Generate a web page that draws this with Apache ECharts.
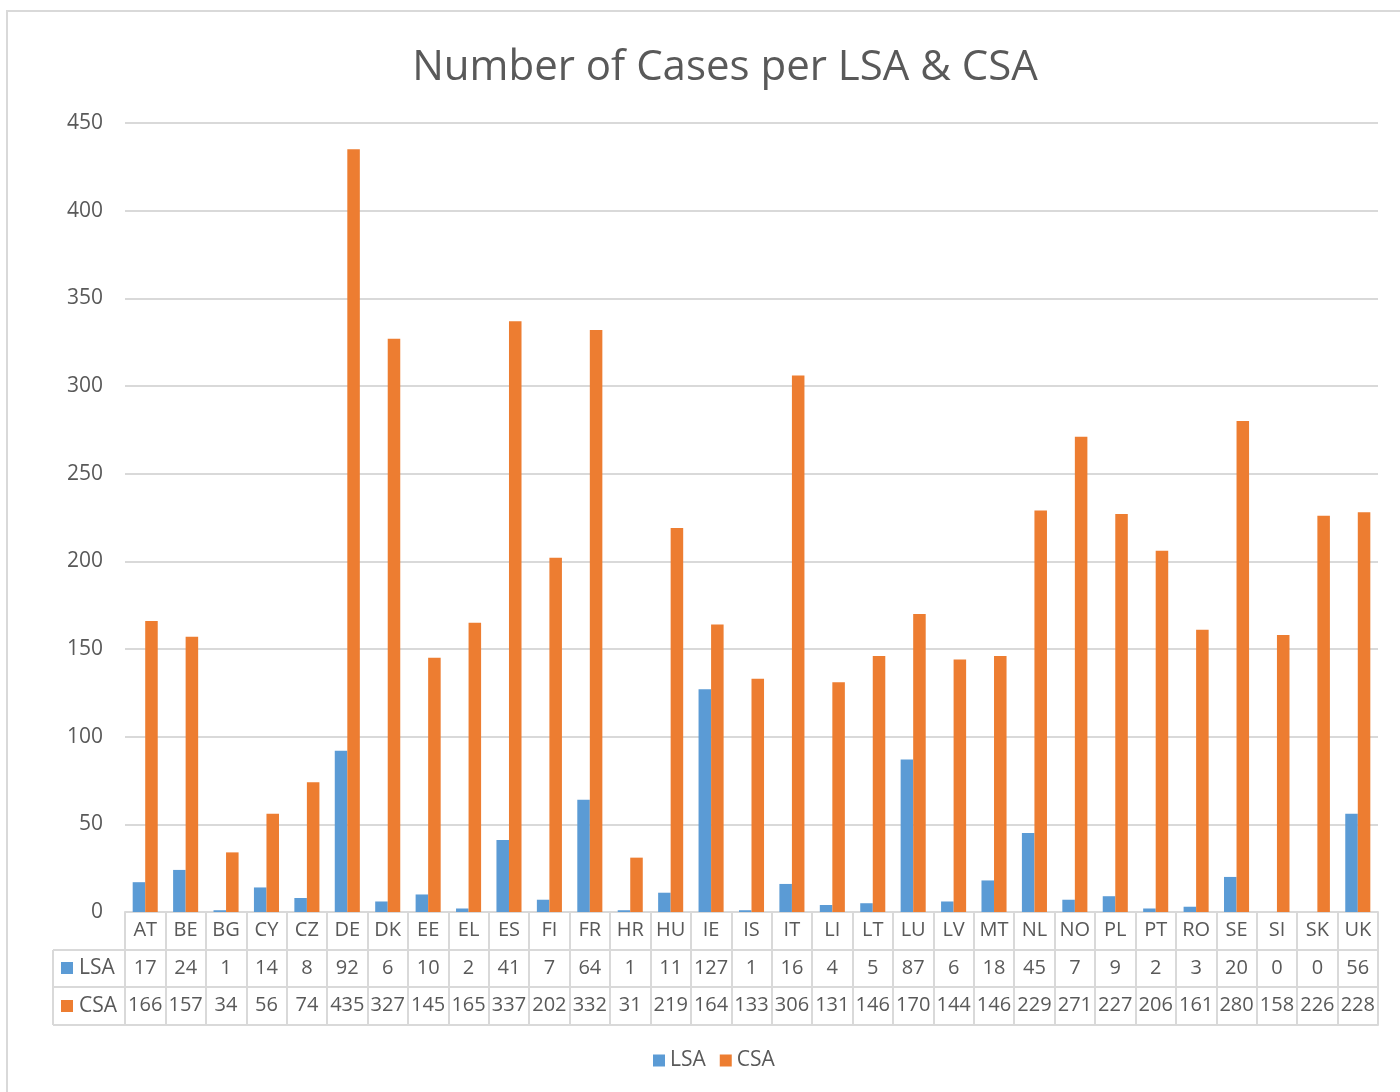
<!DOCTYPE html>
<html>
<head>
<meta charset="utf-8">
<style>
  html, body { margin: 0; padding: 0; background: #fff; }
  #main { width: 1400px; height: 1092px; }
</style>
<script src="https://cdn.jsdelivr.net/npm/echarts@6/dist/echarts.min.js"></script>
</head>
<body>
<div id="main"></div>
<script>
// data
const countries = ['AT','BE','BG','CY','CZ','DE','DK','EE','EL','ES','FI','FR','HR','HU','IE','IS','IT','LI','LT','LU','LV','MT','NL','NO','PL','PT','RO','SE','SI','SK','UK'];
const lsa = [17,24,1,14,8,92,6,10,2,41,7,64,1,11,127,1,16,4,5,87,6,18,45,7,9,2,3,20,0,0,56];
const csa = [166,157,34,56,74,435,327,145,165,337,202,332,31,219,164,133,306,131,146,170,144,146,229,271,227,206,161,280,158,226,228];
const yTicks = { min: 0, max: 450, interval: 50 };

const blue = '#5B9BD5';
const orange = '#ED7D31';
const textColor = '#595959';
const lineColor = '#D9D9D9';
const font = 'Open Sans';

const chart = echarts.init(document.getElementById('main'));

// one category axis per table row, stacked under the plot
function tableAxis(data, offset, tickLen, showLabels) {
    return {
        type: 'category',
        data: data,
        position: 'bottom',
        offset: offset,
        axisLine: { show: true, lineStyle: { color: lineColor, width: 2 } },
        axisTick: { show: tickLen > 0, length: tickLen, lineStyle: { color: lineColor, width: 2 } },
        axisLabel: {
            show: showLabels,
            interval: 0,
            margin: 8,
            color: textColor,
            fontFamily: font,
            fontSize: 20
        },
        splitLine: { show: false }
    };
}

const option = {
    backgroundColor: '#fff',
    animation: false,
    title: {
        text: 'Number of Cases per LSA & CSA',
        left: 720,
        top: 42,
        textAlign: 'center',
        textStyle: { color: textColor, fontFamily: font, fontSize: 42, fontWeight: 'normal' }
    },
    legend: {
        bottom: 16,
        left: 648,
        itemWidth: 12,
        itemHeight: 12,
        itemGap: 14,
        icon: 'rect',
        textStyle: { color: textColor, fontFamily: font, fontSize: 21 },
        data: ['LSA', 'CSA']
    },
    grid: { left: 125, right: 22, top: 123, bottom: 180 },
    xAxis: [
        tableAxis(countries, 0, 38, true),
        tableAxis(lsa.map(String), 38, 37, true),
        tableAxis(csa.map(String), 75, 38, true),
        tableAxis(countries.map(() => ''), 113, 0, false)
    ],
    yAxis: {
        type: 'value',
        min: yTicks.min,
        max: yTicks.max,
        interval: yTicks.interval,
        axisLine: { show: false },
        axisTick: { show: false },
        axisLabel: { color: textColor, fontFamily: font, fontSize: 21, margin: 22 },
        splitLine: { lineStyle: { color: lineColor, width: 2 } }
    },
    series: [
        { name: 'LSA', type: 'bar', xAxisIndex: 0, data: lsa, itemStyle: { color: blue }, barGap: '0%', barCategoryGap: '38%' },
        { name: 'CSA', type: 'bar', xAxisIndex: 0, data: csa, itemStyle: { color: orange }, barGap: '0%', barCategoryGap: '38%' }
    ],
    // outer chart frame and the row-header column of the data table
    graphic: [
        { type: 'rect', shape: { x: 7, y: 11, width: 1500, height: 1200 }, style: { fill: 'none', stroke: lineColor, lineWidth: 2 }, silent: true },
        { type: 'line', shape: { x1: 53, y1: 950, x2: 125, y2: 950 }, style: { stroke: lineColor, lineWidth: 2 } },
        { type: 'line', shape: { x1: 53, y1: 987, x2: 125, y2: 987 }, style: { stroke: lineColor, lineWidth: 2 } },
        { type: 'line', shape: { x1: 53, y1: 1025, x2: 125, y2: 1025 }, style: { stroke: lineColor, lineWidth: 2 } },
        { type: 'line', shape: { x1: 53, y1: 950, x2: 53, y2: 1025 }, style: { stroke: lineColor, lineWidth: 2 } },
        { type: 'rect', shape: { x: 61, y: 962, width: 12, height: 12 }, style: { fill: blue } },
        { type: 'text', x: 79, y: 968, style: { text: 'LSA', fill: textColor, font: '21px "Open Sans"', verticalAlign: 'middle' } },
        { type: 'rect', shape: { x: 61, y: 1000, width: 12, height: 12 }, style: { fill: orange } },
        { type: 'text', x: 79, y: 1006, style: { text: 'CSA', fill: textColor, font: '21px "Open Sans"', verticalAlign: 'middle' } }
    ]
};

chart.setOption(option);
window.addEventListener('resize', function () {
    chart.resize();
});
</script>
</body>
</html>
